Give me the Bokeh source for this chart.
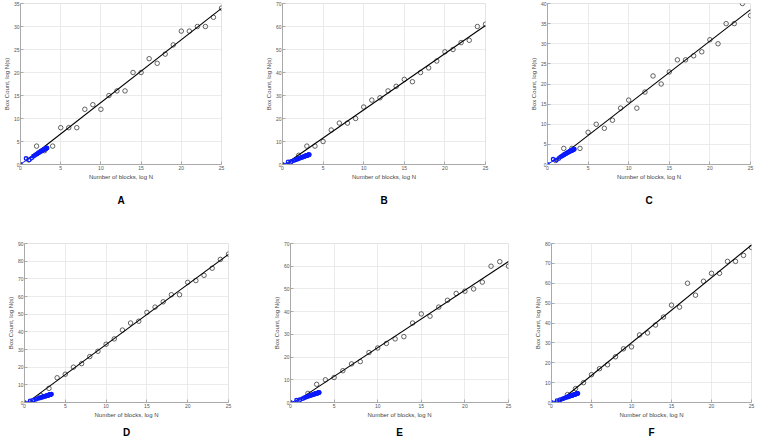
import numpy as np
from bokeh.plotting import figure
from bokeh.layouts import column, row
from bokeh.models import Range1d, FixedTicker
from bokeh.embed import file_html
from bokeh.resources import INLINE

# ---- data -------------------------------------------------------------
BLOCKS = [1, 2, 3, 4, 5, 6, 7, 8, 9, 10, 11, 12, 13, 14, 15, 16, 17, 18, 19,
          20, 21, 22, 23, 24, 25]
A_Y = [1, 4, 3, 4, 8, 8, 8, 12, 13, 12, 15, 16, 16, 20, 20, 23, 22, 24, 26,
       29, 29, 30, 30, 32, 34]
B_Y = [1, 4, 8, 8, 10, 15, 18, 18, 20, 25, 28, 29, 32, 34, 37, 36, 40, 42, 45,
       49, 50, 53, 54, 60, 61]
C_Y = [1, 4, 4, 4, 8, 10, 9, 11, 14, 16, 14, 18, 22, 20, 23, 26, 26, 27, 28,
       31, 30, 35, 35, 40, 37]
D_Y = [1, 4, 8, 14, 16, 20, 22, 26, 29, 33, 36, 41, 45, 46, 51, 54, 57, 61, 61,
       68, 69, 72, 76, 81, 84]
E_Y = [1, 4, 8, 10, 11, 14, 17, 18, 22, 24, 26, 28, 29, 35, 39, 38, 42, 45, 48,
       49, 50, 53, 60, 62, 60]
F_Y = [1, 4, 7, 10, 14, 17, 19, 23, 27, 28, 34, 35, 39, 43, 49, 48, 60, 54, 61,
       65, 65, 71, 71, 74, 78]

SCALE_X = [0, 0.69, 1.10, 1.39, 1.61, 1.79, 1.95, 2.08, 2.20, 2.30, 2.40, 2.48,
           2.56, 2.64, 2.71, 2.77, 2.83, 2.89, 2.94, 3.00, 3.04, 3.09, 3.14,
           3.18, 3.22, 3.26, 3.30]
A_SCALE_Y = [0, 1.3, 1.0, 1.4, 1.8, 2.0, 2.2, 2.3, 2.5, 2.6, 2.7, 2.8, 2.9,
             2.95, 3.0, 3.1, 3.15, 3.2, 3.25, 3.3, 3.35, 3.4, 3.45, 3.5, 3.5,
             3.55, 3.6]
B_SCALE_Y = [0, 1.1, 1.3, 1.7, 2.0, 2.3, 2.5, 2.7, 2.9, 3.0, 3.1, 3.25, 3.35,
             3.45, 3.55, 3.6, 3.7, 3.8, 3.85, 3.9, 4.0, 4.05, 4.1, 4.15, 4.2,
             4.25, 4.3]
C_SCALE_Y = [0, 1.3, 1.1, 1.5, 1.9, 2.1, 2.3, 2.5, 2.6, 2.75, 2.85, 2.95, 3.05,
             3.15, 3.2, 3.3, 3.35, 3.4, 3.45, 3.5, 3.55, 3.6, 3.65, 3.7, 3.72,
             3.76, 3.8]
D_SCALE_Y = [0, 0.9, 1.4, 1.8, 2.2, 2.5, 2.7, 2.9, 3.1, 3.25, 3.4, 3.5, 3.6,
             3.7, 3.8, 3.9, 4.0, 4.1, 4.2, 4.25, 4.35, 4.4, 4.5, 4.55, 4.6,
             4.65, 4.7]
E_SCALE_Y = [0, 1.0, 1.3, 1.7, 2.1, 2.4, 2.6, 2.8, 3.0, 3.1, 3.25, 3.35, 3.45,
             3.55, 3.65, 3.75, 3.85, 3.9, 4.0, 4.05, 4.1, 4.15, 4.2, 4.25, 4.3,
             4.35, 4.4]
F_SCALE_Y = [0, 0.9, 1.4, 1.8, 2.2, 2.5, 2.7, 2.9, 3.05, 3.2, 3.35, 3.45, 3.55,
             3.65, 3.75, 3.85, 3.95, 4.05, 4.1, 4.2, 4.25, 4.35, 4.4, 4.45, 4.5,
             4.55, 4.6]

X_TICKS = [0, 5, 10, 15, 20, 25]
A_TICKS = [0, 5, 10, 15, 20, 25, 30, 35]
B_TICKS = [0, 10, 20, 30, 40, 50, 60, 70]
C_TICKS = [0, 5, 10, 15, 20, 25, 30, 35, 40]
D_TICKS = [0, 10, 20, 30, 40, 50, 60, 70, 80, 90]
E_TICKS = [0, 10, 20, 30, 40, 50, 60, 70]
F_TICKS = [0, 10, 20, 30, 40, 50, 60, 70, 80]

X_LABEL = "Number of blocks, log N"
Y_LABEL = "Box Count, log N(s)"
FONT = "Liberation Sans"


def panel(letter, ys, scale_y, yticks, width, height, mb, standoff):
    left, right, top, bottom = mb
    p = figure(width=width, height=height, output_backend="svg",
               toolbar_location=None, tools="",
               x_range=Range1d(X_TICKS[0], X_TICKS[-1]),
               y_range=Range1d(yticks[0], yticks[-1]),
               min_border_left=left, min_border_right=right,
               min_border_top=top, min_border_bottom=bottom)
    p.background_fill_color = "white"
    p.border_fill_color = "white"
    p.outline_line_color = "#e3e3e3"

    p.xaxis.ticker = FixedTicker(ticks=X_TICKS)
    p.yaxis.ticker = FixedTicker(ticks=yticks)
    p.xgrid.ticker = FixedTicker(ticks=X_TICKS)
    p.ygrid.ticker = FixedTicker(ticks=yticks)
    for g in (p.xgrid, p.ygrid):
        g.grid_line_color = "#e6e6e6"
        g.grid_line_width = 0.8
    for ax in (p.xaxis, p.yaxis):
        ax.axis_line_color = "#9a9a9a"
        ax.axis_line_width = 0.8
        ax.major_tick_line_color = "#9a9a9a"
        ax.major_tick_line_width = 0.8
        ax.major_tick_in = 3
        ax.major_tick_out = 0
        ax.minor_tick_line_color = None
        ax.major_label_text_font = FONT
        ax.major_label_text_font_size = "5px"
        ax.major_label_text_color = "#555555"
        ax.major_label_standoff = 1
        ax.axis_label_text_font = FONT
        ax.axis_label_text_font_size = "6px"
        ax.axis_label_text_font_style = "normal"
        ax.axis_label_text_color = "#444444"
        ax.axis_label_standoff = 1
    p.xaxis.axis_label = X_LABEL
    p.yaxis.axis_label = Y_LABEL

    # black: measurements and their least-squares line
    p.scatter(BLOCKS, ys, marker="circle", size=4.5, fill_color=None,
              line_color="#222222", line_width=0.7)
    k, b = np.polyfit(BLOCKS, ys, 1)
    xs = [BLOCKS[0], BLOCKS[-1]]
    p.line(xs, [k * x + b for x in xs], line_color="black", line_width=1.1)

    # blue: box-count scale and its fit
    p.scatter(SCALE_X, scale_y, marker="circle", size=3.5, fill_color=None,
              line_color="#0a1aff", line_width=1.3)
    k2, b2 = np.polyfit(SCALE_X, scale_y, 1)
    xs2 = [SCALE_X[0], SCALE_X[-1]]
    p.line(xs2, [k2 * x + b2 for x in xs2], line_color="#0a1aff", line_width=1.0)

    p.title.text = letter
    p.title_location = "below"
    p.title.align = "center"
    p.title.text_font = FONT
    p.title.text_font_style = "bold"
    p.title.text_font_size = "10px"
    p.title.text_color = "black"
    p.title.standoff = standoff
    return p


TOP_H = 220
BOT_H = 222
pa = panel("A", A_Y, A_SCALE_Y, A_TICKS, 262, TOP_H, (15, 41, 3, 56), 21)
pb = panel("B", B_Y, B_SCALE_Y, B_TICKS, 265, TOP_H, (18, 42, 3, 56), 21)
pc = panel("C", C_Y, C_SCALE_Y, C_TICKS, 237, TOP_H, (17, 14, 3, 56), 21)
pd = panel("D", D_Y, D_SCALE_Y, D_TICKS, 270, BOT_H, (24, 42, 23, 39), 9)
pe = panel("E", E_Y, E_SCALE_Y, E_TICKS, 261, BOT_H, (19, 23, 10, 40), 9)
pf = panel("F", F_Y, F_SCALE_Y, F_TICKS, 233, BOT_H, (16, 13, 23, 39), 9)

layout = column(row(pa, pb, pc), row(pd, pe, pf))

open("out.html", "w").write(file_html(layout, INLINE))
